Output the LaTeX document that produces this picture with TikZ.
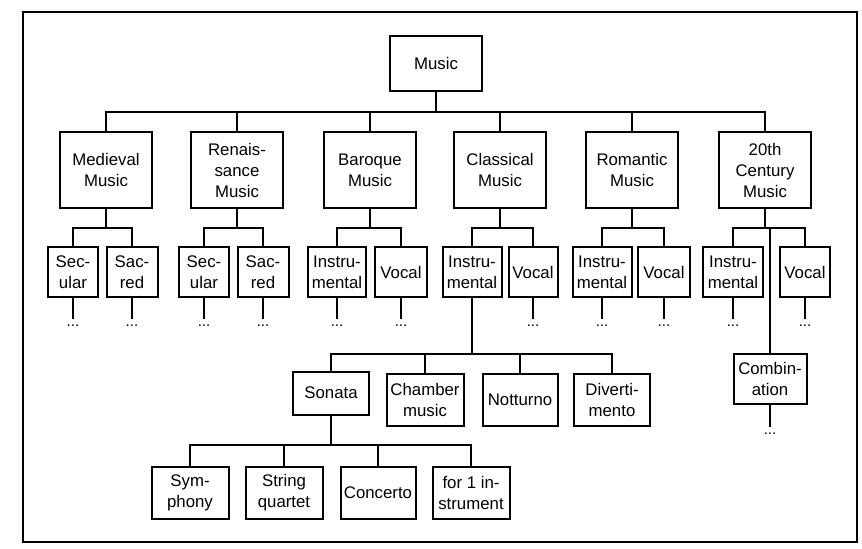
\documentclass[tikz,border=0pt]{standalone}
\usepackage{fontspec}
\setmainfont{Liberation Sans}
\begin{document}
\begin{tikzpicture}[x=0.5pt,y=-0.5pt,
  box/.style={draw, line width=1pt, align=center, inner sep=0pt,
    font=\fontsize{8.4}{10.5}\selectfont},
  con/.style={line width=1pt},
  dotsn/.style={inner sep=3pt, font=\fontsize{7.5}{9}\selectfont}]
\useasboundingbox (0,0) rectangle (862,548);
\draw[line width=1pt] (23,12) rectangle (857,542);

% root
\node[box, minimum width=46pt, minimum height=27.5pt] (music) at (436,63) {Music};

% level 1
\tikzset{l1/.style={box, minimum width=46pt, minimum height=38pt}}
\node[l1] (med) at (106,170) {Medieval\\Music};
\node[l1] (ren) at (237,170) {Renais-\\sance\\Music};
\node[l1] (bar) at (370,170) {Baroque\\Music};
\node[l1] (cla) at (500,170) {Classical\\Music};
\node[l1] (rom) at (632,170) {Romantic\\Music};
\node[l1] (twe) at (765,170) {20th\\Century\\Music};

\coordinate (b0) at (436,112);
\foreach \c in {med,ren,bar,cla,rom,twe}
  \draw[con] (music.south) -- (b0) -| (\c.north);

% level 2
\tikzset{l2/.style={box, minimum height=25pt}}
\node[l2, minimum width=25pt]   (medsec) at (73,272)  {Sec-\\ular};
\node[l2, minimum width=25.5pt] (medsac) at (132,272) {Sac-\\red};
\node[l2, minimum width=25pt]   (rensec) at (204,272) {Sec-\\ular};
\node[l2, minimum width=25.5pt] (rensac) at (263,272) {Sac-\\red};
\node[l2, minimum width=29pt]   (barins) at (337,272) {Instru-\\mental};
\node[l2, minimum width=26pt]   (barvoc) at (401,272) {Vocal};
\node[l2, minimum width=29.5pt] (clains) at (472,272) {Instru-\\mental};
\node[l2, minimum width=24.5pt] (clavoc) at (533,272) {Vocal};
\node[l2, minimum width=29.5pt] (romins) at (602,272) {Instru-\\mental};
\node[l2, minimum width=26pt]   (romvoc) at (664,272) {Vocal};
\node[l2, minimum width=30pt]   (tweins) at (733,272) {Instru-\\mental};
\node[l2, minimum width=25pt]   (twevoc) at (805,272) {Vocal};

\foreach \p/\a/\b/\x in {med/medsec/medsac/106, ren/rensec/rensac/237,
    bar/barins/barvoc/370, cla/clains/clavoc/500,
    rom/romins/romvoc/632, twe/tweins/twevoc/765}{
  \coordinate (bus\p) at (\x,228);
  \draw[con] (\p.south) -- (bus\p) -| (\a.north);
  \draw[con] (\p.south) -- (bus\p) -| (\b.north);
}

% dots under level 2
\foreach \n/\x in {medsec/73, medsac/132, rensec/204, rensac/263,
    barins/337, barvoc/401, clavoc/533, romins/602, romvoc/664,
    tweins/733, twevoc/805}{
  \node[dotsn] (d\n) at (\x,326) {...};
  \draw[con] (\n.south) -- (d\n.north);
}

% combination
\node[box, minimum width=36.5pt, minimum height=25pt] (comb) at (770,379) {Combin-\\ation};
\draw[con] (bustwe) -| (comb.north);
\node[dotsn] (dcomb) at (770,434) {...};
\draw[con] (comb.south) -- (dcomb.north);

% level 3
\node[box, minimum width=38pt, minimum height=21.5pt] (son) at (331,393) {Sonata};
\tikzset{l3/.style={box, minimum height=26pt}}
\node[l3, minimum width=38.5pt] (cha) at (425,400) {Chamber\\music};
\node[l3, minimum width=37.5pt] (not) at (520,400) {Notturno};
\node[l3, minimum width=38pt]   (div) at (612,400) {Diverti-\\mento};

\coordinate (bus3) at (472,354);
\foreach \c in {son,cha,not,div}
  \draw[con] (clains.south) -- (bus3) -| (\c.north);

% level 4
\tikzset{l4/.style={box, minimum width=38.5pt, minimum height=26pt}}
\node[l4] (sym) at (190,493) {Sym-\\phony};
\node[l4] (str) at (284,493) {String\\quartet};
\node[l4, minimum width=37.5pt] (con) at (378,493) {Concerto};
\node[l4] (one) at (471,493) {for 1 in-\\strument};

\coordinate (bus4) at (331,445);
\foreach \c in {sym,str,con,one}
  \draw[con] (son.south) -- (bus4) -| (\c.north);
\end{tikzpicture}
\end{document}
